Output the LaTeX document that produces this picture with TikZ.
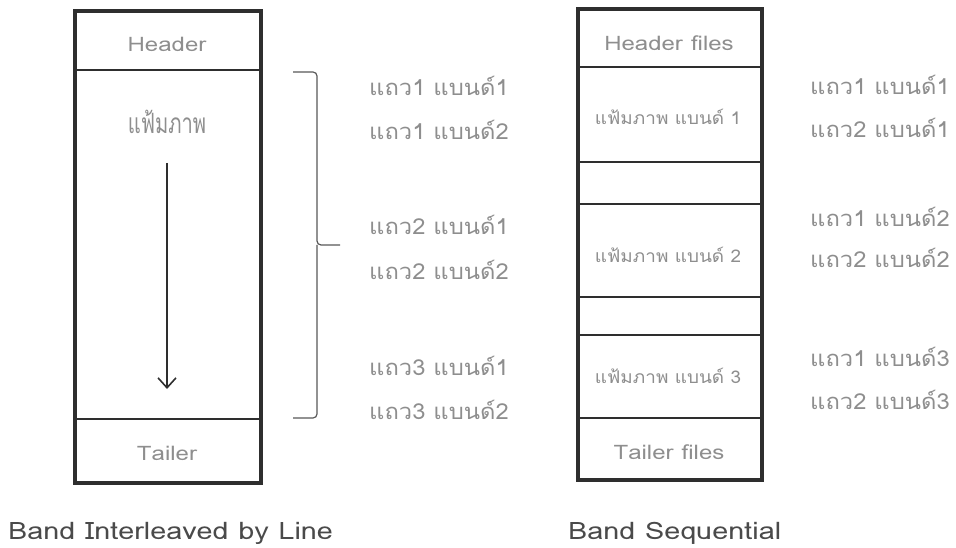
\documentclass[tikz,border=0pt]{standalone}
\usepackage{fontspec}
\newfontfamily\thaifont[Script=Thai,FakeStretch=1.08]{Loma}
\newfontfamily\thainarrow[Script=Thai,FakeStretch=0.72]{Loma}
\newfontfamily\latinwide[Script=Thai,FakeStretch=1.2]{Loma}
\setmainfont{Loma}[Script=Thai]
\usetikzlibrary{arrows.meta}
\definecolor{txtgray}{HTML}{8E8E8E}
\definecolor{capgray}{HTML}{4A4A4A}
\definecolor{linegray}{HTML}{2E2E2E}
\tikzset{
  outerbox/.style={draw=linegray, line width=3.2pt},
  divider/.style={draw=linegray, line width=2.2pt},
  boxlabel/.style={text=txtgray, font=\latinwide\fontsize{20}{24}\selectfont, inner sep=0pt},
  bandlabel/.style={text=txtgray, font=\thaifont\fontsize{17.5}{21}\selectfont, inner sep=0pt},
  sidelabel/.style={text=txtgray, font=\thaifont\fontsize{22}{26}\selectfont, inner sep=0pt, anchor=west},
  caption/.style={text=capgray, font=\latinwide\fontsize{24}{28}\selectfont, inner sep=0pt, anchor=west},
  bracket/.style={draw=linegray!80, line width=1.2pt, rounded corners=4pt},
  flowarrow/.style={draw=linegray, line width=1.6pt, -{Straight Barb[length=10pt,width=18pt,line width=1.6pt]}}
}
\begin{document}
\begin{tikzpicture}[x=1pt,y=-1pt]
\useasboundingbox (0,0) rectangle (956,548);
% left box
\draw[outerbox] (75,11) rectangle (261,483);
\draw[divider] (75,70) -- (261,70);
\draw[divider] (75,419) -- (261,419);
\node[boxlabel] (lhead) at (167,44) {Header};
\node[boxlabel, font=\thainarrow\fontsize{28}{32}\selectfont] (lfile) at (167,122) {แฟ้มภาพ};
\node[boxlabel] (ltail) at (167,453) {Tailer};
\coordinate (atop) at (167,163);
\coordinate (abot) at (167,389);
\draw[flowarrow] (atop) -- (abot);
% brace
\coordinate (b1) at (293,72);
\coordinate (b2) at (317,72);
\coordinate (b3) at (317,245);
\coordinate (b4) at (340,245);
\coordinate (b5) at (317,418);
\coordinate (b6) at (293,418);
\draw[bracket] (b1) -- (b2) -- (b3) -- (b4);
\draw[bracket] (b6) -- (b5) -- (b3);
% middle labels
\node[sidelabel] (m1) at (369,86) {แถว1 แบนด์1};
\node[sidelabel] (m2) at (369,130) {แถว1 แบนด์2};
\node[sidelabel] (m3) at (369,225) {แถว2 แบนด์1};
\node[sidelabel] (m4) at (369,270) {แถว2 แบนด์2};
\node[sidelabel] (m5) at (369,366) {แถว3 แบนด์1};
\node[sidelabel] (m6) at (369,410) {แถว3 แบนด์2};
% right box
\draw[outerbox] (578,9) rectangle (762,480);
\foreach \yy in {67,162,204,297,335,418} \draw[divider] (578,\yy) -- (762,\yy);
\node[boxlabel] (rhead) at (669,43) {Header files};
\node[bandlabel] (rb1) at (668,117) {แฟ้มภาพ แบนด์ 1};
\node[bandlabel] (rb2) at (668,255) {แฟ้มภาพ แบนด์ 2};
\node[bandlabel] (rb3) at (668,376) {แฟ้มภาพ แบนด์ 3};
\node[boxlabel] (rtail) at (669,452) {Tailer files};
% right labels
\node[sidelabel] (r1) at (810,85) {แถว1 แบนด์1};
\node[sidelabel] (r2) at (810,128) {แถว2 แบนด์1};
\node[sidelabel] (r3) at (810,217) {แถว1 แบนด์2};
\node[sidelabel] (r4) at (810,258) {แถว2 แบนด์2};
\node[sidelabel] (r5) at (810,357) {แถว1 แบนด์3};
\node[sidelabel] (r6) at (810,400) {แถว2 แบนด์3};
% captions
\node[caption] (c1) at (8,533) {Band Interleaved by Line};
\node[caption] (c2) at (568,533) {Band Sequential};
\end{tikzpicture}
\end{document}
